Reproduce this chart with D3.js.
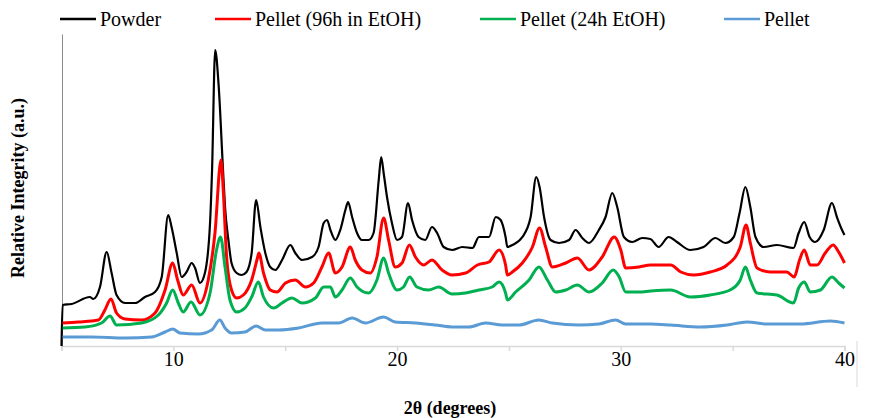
<!DOCTYPE html>
<html>
<head>
<meta charset="utf-8">
<script src="https://cdn.jsdelivr.net/npm/d3@7/dist/d3.min.js"></script>
<style>
  html, body { margin: 0; padding: 0; background: #fff; }
  svg text { font-family: "Liberation Serif", "Times New Roman", serif; }
</style>
</head>
<body>
<svg id="chart" width="872" height="418"></svg>
<script>
// XRD patterns: [2θ (deg), intensity (a.u.)]
const powder = [
  [5.0,0],[5.05,41],[5.45,42],[6.27,49],[6.42,47],[6.72,59],[7.02,94],[7.24,73],[7.46,51],[7.84,43],
  [8.29,43],[8.73,49],[9.18,54],[9.48,69],[9.77,131],[9.92,119],[10.15,93],[10.37,69],[10.59,74],[10.82,83],
  [10.97,78],[11.19,63],[11.41,73],[11.64,123],[11.73,176],[11.87,296],[12.02,262],[12.22,176],[12.31,139],[12.46,106],
  [12.6,83],[12.83,73],[13.05,71],[13.27,74],[13.5,93],[13.7,146],[13.89,119],[14.11,93],[14.33,79],[14.56,76],
  [14.86,86],[15.23,101],[15.45,93],[15.75,86],[16.2,89],[16.49,99],[16.72,123],[16.87,126],[17.02,116],[17.24,106],
  [17.46,116],[17.69,136],[17.81,144],[17.99,129],[18.21,113],[18.43,106],[18.73,106],[18.95,113],[19.18,166],[19.29,189],
  [19.4,173],[19.55,149],[19.77,123],[20.0,106],[20.22,109],[20.49,143],[20.67,126],[20.96,109],[21.26,106],[21.56,119],
  [21.79,113],[22.08,99],[22.46,96],[22.92,99],[23.37,98],[23.66,109],[24.11,109],[24.41,129],[24.63,126],[24.85,109],
  [24.93,99],[25.15,101],[25.6,109],[25.97,129],[26.22,169],[26.37,159],[26.57,129],[26.86,106],[27.24,103],[27.69,106],
  [27.98,116],[28.28,108],[28.58,103],[29.02,116],[29.32,129],[29.62,153],[29.84,139],[30.14,109],[30.51,104],[30.96,108],
  [31.32,107],[31.69,99],[32.14,109],[32.51,104],[33.11,96],[33.7,99],[34.23,108],[34.67,103],[35.05,109],[35.31,133],
  [35.57,159],[35.79,139],[36.02,109],[36.39,99],[36.98,101],[37.72,98],[37.95,113],[38.2,124],[38.44,109],[38.69,104],
  [39.07,116],[39.44,143],[39.66,129],[39.89,116],[40.0,111]
];

const pellet96h = [
  [5.05,23],[5.75,24],[6.65,26],[6.94,36],[7.21,47],[7.46,33],[7.84,27],[8.58,26],[9.18,33],[9.63,56],
  [9.97,83],[10.19,66],[10.44,51],[10.82,61],[11.19,43],[11.56,66],[11.86,113],[12.13,186],[12.23,156],[12.38,89],
  [12.6,56],[12.83,48],[13.13,51],[13.5,66],[13.77,89],[13.82,93],[14.03,73],[14.33,56],[14.63,54],[15.01,63],
  [15.45,66],[15.9,59],[16.27,63],[16.64,79],[16.94,93],[17.24,73],[17.54,79],[17.91,99],[18.13,86],[18.43,76],
  [18.8,73],[19.1,89],[19.4,128],[19.62,106],[19.92,79],[20.22,83],[20.55,101],[20.82,89],[21.19,81],[21.56,86],
  [22.01,76],[22.46,71],[23.06,73],[23.59,81],[24.11,84],[24.56,96],[24.85,81],[24.93,71],[25.15,74],[25.6,83],
  [26.05,99],[26.37,118],[26.64,99],[26.94,79],[27.54,83],[28.06,88],[28.58,76],[29.17,89],[29.71,109],[30.0,96],
  [30.22,78],[30.82,79],[31.33,81],[32.23,81],[32.68,74],[33.26,71],[34.0,74],[34.75,81],[35.34,99],[35.6,121],
  [35.79,103],[36.09,78],[36.68,74],[37.42,74],[37.75,69],[37.99,86],[38.2,96],[38.47,81],[38.77,81],[39.14,93],
  [39.49,101],[39.74,94],[40.0,83]
];

const pellet24h = [
  [5.05,18],[6.05,19],[6.79,23],[7.17,30],[7.46,21],[8.58,23],[9.33,31],[9.7,43],[9.97,56],[10.22,43],
  [10.44,34],[10.79,44],[11.19,31],[11.64,53],[11.93,96],[12.11,109],[12.31,79],[12.53,46],[12.83,34],[13.2,38],
  [13.5,49],[13.8,64],[14.03,49],[14.48,38],[14.86,43],[15.3,48],[15.75,43],[16.35,48],[16.72,59],[17.02,59],
  [17.24,49],[17.54,56],[17.91,68],[18.21,59],[18.73,53],[19.1,66],[19.4,88],[19.62,73],[20.0,56],[20.29,59],
  [20.56,69],[20.89,59],[21.41,56],[21.86,59],[22.46,52],[23.06,53],[23.66,56],[24.25,59],[24.56,64],[24.85,53],
  [24.93,46],[25.3,54],[25.9,66],[26.34,79],[26.72,66],[27.09,54],[27.54,56],[28.06,61],[28.58,54],[29.17,63],
  [29.66,76],[29.93,69],[30.22,54],[30.82,54],[31.33,55],[32.23,56],[33.11,49],[34.0,51],[34.89,56],[35.34,66],
  [35.57,79],[35.79,66],[36.09,53],[36.98,51],[37.72,43],[37.95,58],[38.2,64],[38.47,54],[38.92,56],[39.44,69],
  [39.74,63],[40.0,58]
];

const pellet = [
  [5.05,9],[6.35,9],[7.84,8],[9.03,9],[9.63,14],[9.97,17],[10.3,13],[11.12,12],[11.71,16],[12.08,26],
  [12.31,18],[12.6,13],[13.2,14],[13.7,20],[14.11,16],[14.71,16],[15.6,18],[16.64,23],[17.39,23],[17.99,28],
  [18.58,23],[19.4,29],[19.92,24],[20.82,23],[21.71,21],[22.46,19],[23.21,19],[23.96,23],[24.7,21],[25.45,21],
  [26.34,26],[26.94,23],[28.13,21],[29.02,22],[29.77,26],[30.22,22],[31.33,22],[32.23,21],[33.56,19],[34.75,21],
  [35.64,24],[36.54,22],[38.03,22],[39.37,25],[40.0,23]
];

const seriesNames = ["Powder", "Pellet (96h in EtOH)", "Pellet (24h EtOH)", "Pellet"];
const seriesColors = ["#000000", "#ff0000", "#00b050", "#5b9bd5"];
const seriesData = [powder, pellet96h, pellet24h, pellet];
const xTicks = [5, 10, 15, 20, 25, 30, 35, 40];
const xTickLabels = { 10: "10", 20: "20", 30: "30", 40: "40" };

const serif = "'Liberation Serif', 'Times New Roman', serif";
const svg = d3.select("#chart");
const x = d3.scaleLinear().domain([5, 40]).range([61.5, 844.5]);
const y = d3.scaleLinear().domain([0, 312]).range([346, 34]);

// x axis
const gx = svg.append("g").attr("transform", "translate(0,346)")
  .call(d3.axisBottom(x).tickValues(xTicks).tickSizeOuter(0).tickSize(5)
    .tickFormat(d => xTickLabels[d] || ""));
gx.attr("font-family", serif);
gx.select(".domain").attr("stroke", "#d9d9d9").attr("stroke-width", 1.5);
gx.selectAll(".tick line").attr("stroke", "#d9d9d9").attr("stroke-width", 1.5);
gx.selectAll(".tick text").attr("font-size", 20).attr("fill", "#000")
  .attr("font-family", serif).attr("dy", "0.8em").attr("y", 4);

// y axis (no ticks)
const gy = svg.append("g").attr("transform", "translate(62,0)")
  .call(d3.axisLeft(y).tickValues([]).tickSizeOuter(0));
gy.select(".domain").attr("stroke", "#8c8c8c").attr("stroke-width", 1);

// plot frame edge at right
svg.append("line").attr("x1", 857).attr("x2", 857).attr("y1", 341).attr("y2", 387)
  .attr("stroke", "#d9d9d9").attr("stroke-width", 1);

// patterns
const line = d3.line().x(d => x(d[0])).y(d => y(d[1])).curve(d3.curveMonotoneX);
const widths = [2.2, 3, 3, 3];
seriesData.forEach((data, i) => {
  svg.append("path").datum(data)
    .attr("fill", "none")
    .attr("stroke", seriesColors[i])
    .attr("stroke-width", widths[i])
    .attr("stroke-linejoin", "round")
    .attr("d", line);
});

// legend
const legendX = [60, 215, 480, 724];
seriesNames.forEach((name, i) => {
  const g = svg.append("g").attr("transform", `translate(${legendX[i]},19)`);
  g.append("line").attr("x1", 0).attr("x2", 36).attr("y1", 0).attr("y2", 0)
    .attr("stroke", seriesColors[i]).attr("stroke-width", 2.5);
  g.append("text").attr("x", 40).attr("y", 7).attr("font-size", 20)
    .attr("font-family", serif).attr("fill", "#000").text(name);
});

// axis titles
svg.append("text").attr("x", 450).attr("y", 414).attr("text-anchor", "middle")
  .attr("font-family", serif).attr("font-size", 18).attr("font-weight", "bold").text("2θ (degrees)");
svg.append("text").attr("transform", "translate(24,188) rotate(-90)").attr("text-anchor", "middle")
  .attr("font-family", serif).attr("font-size", 18).attr("font-weight", "bold").text("Relative Integrity (a.u.)");
</script>
</body>
</html>
